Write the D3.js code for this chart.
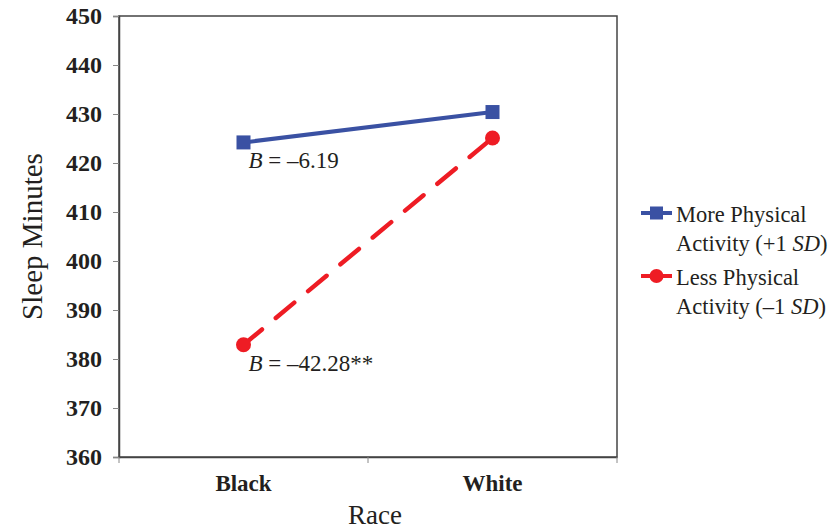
<!DOCTYPE html>
<html><head><meta charset="utf-8">
<script src="https://cdn.jsdelivr.net/npm/d3@7"></script>
<style>body{margin:0;background:#fff}svg{display:block}</style>
</head><body>
<script>
const categories = ["Black", "White"];
const moreActivity = [424.2, 430.4];
const lessActivity = [382.9, 425.1];
const yTicks = [360, 370, 380, 390, 400, 410, 420, 430, 440, 450];
const seriesNames = [["More Physical", "Activity (+1 ", "SD", ")"], ["Less Physical", "Activity (\u20131 ", "SD", ")"]];
const annotations = [{val: "\u20136.19"}, {val: "\u201342.28**"}];

const W = 831, H = 531;
const m = {left: 119, right: 617, top: 16, bottom: 457};
const svg = d3.select("body").append("svg").attr("width", W).attr("height", H);
const font = "'Liberation Serif', 'Times New Roman', serif";
const blue = "#3a51a3", red = "#ee1c24", axisCol = "#444", txt = "#231f20";

const x = d3.scaleBand().domain(categories).range([m.left, m.right]);
const y = d3.scaleLinear().domain([360, 450]).range([m.bottom, m.top]);

// frame
svg.append("rect").attr("x", m.left).attr("y", m.top).attr("width", m.right - m.left).attr("height", m.bottom - m.top)
  .attr("fill", "none").attr("stroke", axisCol).attr("stroke-width", 1.5);

// y axis
const ya = svg.append("g").attr("transform", `translate(${m.left},0)`)
  .call(d3.axisLeft(y).tickValues(yTicks).tickSize(6).tickPadding(11));
ya.select(".domain").attr("stroke", axisCol).attr("stroke-width", 1.5);
ya.selectAll(".tick line").attr("stroke", "#888");
ya.selectAll(".tick text").attr("font-family", font).attr("font-weight", "bold").attr("font-size", 24).attr("fill", txt);

// x axis (ticks at band boundaries)
const xa = svg.append("g").attr("transform", `translate(0,${m.bottom})`)
  .call(d3.axisBottom(x).tickSize(0).tickPadding(18));
xa.select(".domain").attr("stroke", axisCol).attr("stroke-width", 1.5);
xa.selectAll(".tick text").attr("font-family", font).attr("font-weight", "bold").attr("font-size", 23).attr("fill", txt);
const bounds = [x.range()[0], x(categories[1]), x.range()[1]];
xa.selectAll(".bnd").data(bounds).enter().append("line").attr("class", "bnd")
  .attr("x1", d => d).attr("x2", d => d).attr("y1", 0).attr("y2", 6).attr("stroke", "#888");

// axis titles
svg.append("text").attr("transform", `translate(42,${(m.top + m.bottom) / 2}) rotate(-90)`)
  .attr("text-anchor", "middle").attr("font-family", font).attr("font-size", 29).attr("fill", txt).text("Sleep Minutes");
svg.append("text").attr("x", (m.left + m.right) / 2 + 7).attr("y", 524).attr("text-anchor", "middle")
  .attr("font-family", font).attr("font-size", 27).attr("fill", txt).text("Race");

const cx = d => x(d) + x.bandwidth() / 2;
const line = d3.line().x(d => cx(d.c)).y(d => y(d.v));
const moreData = categories.map((c, i) => ({c, v: moreActivity[i]}));
const lessData = categories.map((c, i) => ({c, v: lessActivity[i]}));

svg.append("path").datum(lessData).attr("d", line).attr("fill", "none").attr("stroke", red)
  .attr("stroke-width", 4.5).attr("stroke-dasharray", "24,18").attr("stroke-linecap", "round");
svg.append("path").datum(moreData).attr("d", line).attr("fill", "none").attr("stroke", blue).attr("stroke-width", 4);

svg.selectAll(".sq").data(moreData).enter().append("rect")
  .attr("x", d => cx(d.c) - 7).attr("y", d => y(d.v) - 7).attr("width", 14).attr("height", 14).attr("fill", blue);
svg.selectAll(".ci").data(lessData).enter().append("circle")
  .attr("cx", d => cx(d.c)).attr("cy", d => y(d.v)).attr("r", 7.5).attr("fill", red);

// annotations
const annY = [moreActivity[0], lessActivity[0]];
annotations.forEach((a, i) => {
  const t = svg.append("text").attr("x", cx(categories[0]) + 5).attr("y", y(annY[i]) + 26)
    .attr("font-family", font).attr("font-size", 23).attr("fill", txt);
  t.append("tspan").attr("font-style", "italic").text("B");
  t.append("tspan").text(" = " + a.val);
});

// legend
const legY = [213, 276];
const colors = [blue, red];
seriesNames.forEach((s, i) => {
  const g = svg.append("g");
  g.append("line").attr("x1", 641).attr("x2", 672).attr("y1", legY[i]).attr("y2", legY[i]).attr("stroke", colors[i]).attr("stroke-width", 4);
  if (i === 0) g.append("rect").attr("x", 650).attr("y", legY[i] - 6.5).attr("width", 13).attr("height", 13).attr("fill", blue);
  else g.append("circle").attr("cx", 656.5).attr("cy", legY[i]).attr("r", 7).attr("fill", red);
  g.append("text").attr("x", 676).attr("y", legY[i] + 9).attr("font-family", font).attr("font-size", 22.5).attr("fill", txt).text(s[0]);
  const t2 = g.append("text").attr("x", 676).attr("y", legY[i] + 38).attr("font-family", font).attr("font-size", 22.5).attr("fill", txt);
  t2.append("tspan").text(s[1]);
  t2.append("tspan").attr("font-style", "italic").text(s[2]);
  t2.append("tspan").text(s[3]);
});
</script>
</body></html>
